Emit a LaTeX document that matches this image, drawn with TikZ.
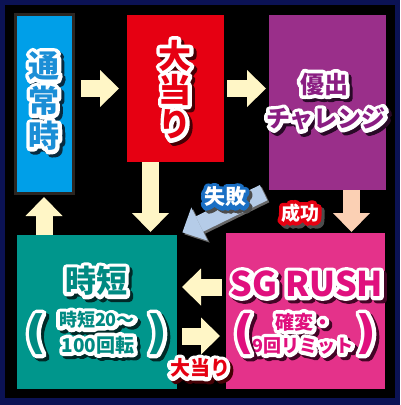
\documentclass[tikz,border=0pt]{standalone}
\usepackage{fontspec}
\usetikzlibrary{arrows.meta}
\newfontfamily\jp{Noto Sans CJK JP}
\newfontfamily\paren{DejaVu Sans}

\definecolor{navy}{HTML}{0B1254}
\definecolor{normalblue}{HTML}{009FE8}
\definecolor{boxedge}{HTML}{2B2622}
\definecolor{hitred}{HTML}{E60012}
\definecolor{chalpurple}{HTML}{9A2F8A}
\definecolor{jitanteal}{HTML}{00968C}
\definecolor{rushpink}{HTML}{E4328A}
\definecolor{cream}{HTML}{FFF6C6}
\definecolor{peach}{HTML}{FBD0B4}
\definecolor{failblue}{HTML}{B5CCE8}
\definecolor{failrim}{HTML}{1A6FC4}
\definecolor{normaltext}{HTML}{1B8ED6}
\definecolor{chaltext}{HTML}{8A1D82}
\definecolor{jitantext}{HTML}{008A82}
\definecolor{rushtext}{HTML}{E0107E}

% text with a rim and a drop shadow (rim = stroked glyphs)
\newcommand{\rimtext}[7][\jp]{% [font], name, x/y, text colour, rim colour, size, text
  \pgfmathsetmacro\rimbold{760/#6}%
  \node[rim, font=#1\bfseries\fontsize{#6}{#6}\selectfont\addfontfeature{FakeBold=\rimbold}, text=#4!30!black] at ([shift={(3,3)}]#3) {#7};
  \node[rim, font=#1\bfseries\fontsize{#6}{#6}\selectfont\addfontfeature{FakeBold=\rimbold}, text=#5] at (#3) {#7};
  \node[rim, font=#1\bfseries\fontsize{#6}{#6}\selectfont, text=#4] (#2) at (#3) {#7};
}

\begin{document}
\begin{tikzpicture}[x=1pt, y=-1pt,
    box/.style={inner sep=0pt, outer sep=0pt},
    rim/.style={inner sep=0pt, line join=round},
    blockarrow/.style={line width=17pt, draw=#1, -{Triangle[width=37pt, length=19pt, line width=0pt, fill=#1]}},
    blockarrow/.default=cream,
  ]
  \useasboundingbox (0,0) rectangle (400,405);
  \fill[navy] (0,0) rectangle (400,405);
  \fill[black] (5,5) rectangle (395,398);

  % States
  \node[box, fill=normalblue, draw=boxedge, line width=3pt, minimum width=58pt, minimum height=179pt] (normal) at (44,103.5) {};
  \node[box, fill=hitred, minimum width=97pt, minimum height=147pt] (hit) at (175.5,88.5) {};
  \node[box, fill=chalpurple, minimum width=117pt, minimum height=175pt] (chal) at (327.5,102.5) {};
  \node[box, fill=jitanteal, minimum width=160pt, minimum height=154pt] (jitan) at (97,312) {};
  \node[box, fill=rushpink, minimum width=159pt, minimum height=156pt] (rush) at (305.5,311) {};

  % Transitions
  \draw[blockarrow, shorten <=8pt, shorten >=8pt] (normal.east |- hit.west) -- (hit.west);
  \draw[blockarrow, shorten <=3pt, shorten >=3pt] (hit.east) -- (chal.west |- hit.east);
  \draw[blockarrow, shorten >=3pt] ([xshift=-25pt]hit.south) -- ([xshift=-25pt]hit.south |- jitan.north);
  \draw[blockarrow, shorten >=4pt] (jitan.north -| normal.south) -- (normal.south);
  \draw[blockarrow=peach, shorten >=1pt] ([xshift=24pt]chal.south) -- ([xshift=24pt]chal.south |- rush.north);
  \draw[blockarrow, shorten <=4pt, shorten >=5pt] ([yshift=24pt]rush.west) -- ([yshift=24pt]rush.west -| jitan.east);
  \draw[blockarrow, shorten <=5pt, shorten >=6pt] ([yshift=-24pt]jitan.east) -- ([yshift=-24pt]jitan.east -| rush.west);

  % Failed challenge
  \draw[blockarrow=black!60, shorten <=6pt, shorten >=6pt] ([shift={(2,2)}]chal.south west) -- ([shift={(2,2)}]jitan.north east);
  \draw[blockarrow=failblue, shorten <=6pt, shorten >=6pt] (chal.south west) -- (jitan.north east);

  % State names
  \foreach \c [count=\i] in {通,常,時}
    {\rimtext{normal-\i}{44,{31+35*\i}}{normaltext}{white}{31}{\c}}
  \foreach \c [count=\i] in {大,当,り}
    {\rimtext{hit-\i}{175,{21+34.5*\i}}{hitred}{white}{33}{\c}}
  \rimtext{chal-1}{324,84}{chaltext}{white}{24}{優出}
  \rimtext{chal-2}{326,119}{chaltext}{white}{24}{チャレンジ}
  \rimtext{jitan-1}{96,281}{jitantext}{white}{31}{時短}
  \rimtext{jitan-2}{97,320}{jitantext}{white}{18}{時短20～}
  \rimtext{jitan-3}{98,345}{jitantext}{white}{19}{100回転}
  \rimtext[\paren]{jitan-l}{36,334}{jitantext}{white}{46}{(}
  \rimtext[\paren]{jitan-r}{157,334}{jitantext}{white}{46}{)}
  \rimtext{rush-1}{307,284}{rushtext}{white}{34}{SG RUSH}
  \rimtext{rush-2}{304,322}{rushtext}{white}{19}{確変・}
  \rimtext{rush-3}{303,346}{rushtext}{white}{18}{9回リミット}
  \rimtext[\paren]{rush-l}{244,334}{rushtext}{white}{46}{(}
  \rimtext[\paren]{rush-r}{366,334}{rushtext}{white}{46}{)}

  % Transition labels
  \rimtext{fail}{225,197}{white}{failrim}{21}{失敗}
  \rimtext{success}{300,213}{white}{hitred}{19}{成功}
  \rimtext{again}{200,368}{hitred}{white}{20}{大当り}

\end{tikzpicture}
\end{document}
